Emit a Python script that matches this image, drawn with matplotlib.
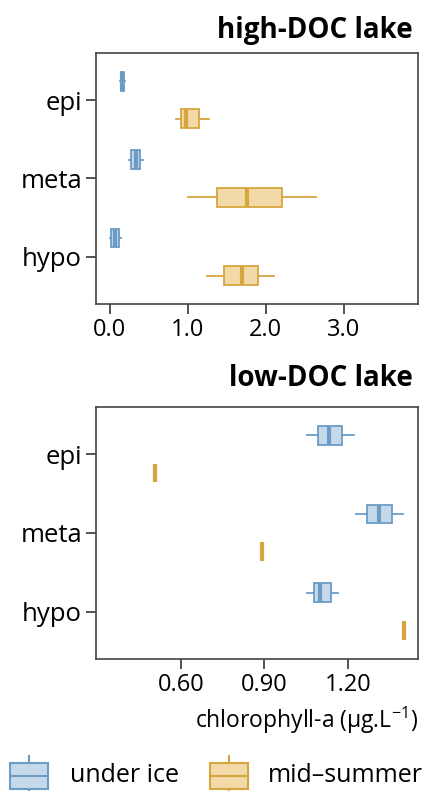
import matplotlib
matplotlib.use("Agg")
import matplotlib.pyplot as plt
from matplotlib.patches import Rectangle

plt.rcParams['font.family'] = ['Open Sans', 'DejaVu Sans']

layers = ['epi', 'meta', 'hypo']
seasons = ['under ice', 'mid\u2013summer']

# high-DOC lake: whislo, q1, median, q3, whishi
high_ice = [[0.13, 0.14, 0.16, 0.18, 0.19],
            [0.24, 0.27, 0.33, 0.38, 0.42],
            [0.00, 0.01, 0.07, 0.12, 0.14]]
high_summer = [[0.85, 0.91, 0.98, 1.14, 1.27],
               [1.00, 1.37, 1.76, 2.21, 2.64],
               [1.24, 1.46, 1.69, 1.90, 2.11]]

# low-DOC lake
low_ice = [[1.054, 1.093, 1.133, 1.18, 1.223],
           [1.23, 1.27, 1.313, 1.36, 1.40],
           [1.054, 1.079, 1.10, 1.14, 1.166]]
low_summer = [[0.506, 0.506, 0.506, 0.506, 0.506],
              [0.89, 0.89, 0.89, 0.89, 0.89],
              [1.403, 1.403, 1.403, 1.403, 1.403]]

edge = ['#6b9cc6', '#d6a53e']
fill = ['#c6d9ea', '#f2d9a8']


def draw(ax, ice, summer):
    for k, data in enumerate([ice, summer]):
        stats = [dict(whislo=d[0], q1=d[1], med=d[2], q3=d[3], whishi=d[4])
                 for d in data]
        pos = [i + 1 + (k - 0.5) * 0.48 for i in range(3)]
        ax.bxp(stats, positions=pos, widths=0.24, vert=False, patch_artist=True,
               showfliers=False, showcaps=False,
               boxprops=dict(facecolor=fill[k], edgecolor=edge[k], linewidth=1.3),
               whiskerprops=dict(color=edge[k], linewidth=1.3),
               medianprops=dict(color=edge[k], linewidth=3.0, solid_capstyle='butt'))
    ax.set_yticks([1, 2, 3])
    ax.set_yticklabels(layers)
    ax.set_ylim(3.6, 0.4)
    for s in ax.spines.values():
        s.set_color('#444444')
        s.set_linewidth(1.2)
    ax.tick_params(axis='both', direction='out', length=7, width=1.3,
                   color='#444444', labelsize=17, pad=3)
    ax.tick_params(axis='y', labelsize=18.5)


fig = plt.figure(figsize=(4.32, 7.91), dpi=100)

ax1 = fig.add_axes([0.222, 0.616, 0.745, 0.317])
draw(ax1, high_ice, high_summer)
ax1.set_xlim(-0.18, 3.95)
ax1.set_xticks([0, 1, 2, 3])
ax1.set_xticklabels(['0.0', '1.0', '2.0', '3.0'])
fig.text(0.955, 0.962, 'high-DOC lake', ha='right', va='center',
         fontsize=20, fontweight='bold')

ax2 = fig.add_axes([0.222, 0.167, 0.745, 0.3186])
draw(ax2, low_ice, low_summer)
ax2.set_xlim(0.294, 1.452)
ax2.set_xticks([0.6, 0.9, 1.2])
ax2.set_xticklabels(['0.60', '0.90', '1.20'])
ax2.set_xlabel('chlorophyll-a (\u03bcg.L$^{\\mathregular{-1}}$)', fontsize=16.5,
               labelpad=6, loc='right')
fig.text(0.955, 0.522, 'low-DOC lake', ha='right', va='center',
         fontsize=20, fontweight='bold')

# legend
lg = fig.add_axes([0, 0, 1, 0.06])
lg.set_xlim(0, 432)
lg.set_ylim(47.5, 0)
lg.axis('off')
for k, (x0, tx) in enumerate([(10, 70), (210, 268)]):
    lg.add_patch(Rectangle((x0, 19), 38, 26, facecolor=fill[k],
                           edgecolor=edge[k], linewidth=1.5))
    lg.plot([x0, x0 + 38], [32, 32], color=edge[k], lw=1.5)
    lg.plot([x0 + 19, x0 + 19], [12, 19], color=edge[k], lw=1.5)
    lg.plot([x0 + 19, x0 + 19], [45, 52], color=edge[k], lw=1.5)
    lg.text(tx, 32, seasons[k], ha='left', va='center', fontsize=18)

fig.savefig('out.png', dpi=100)
